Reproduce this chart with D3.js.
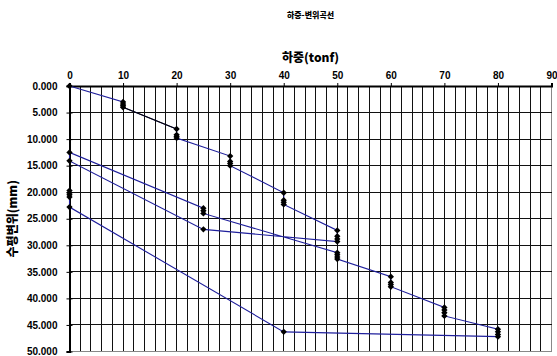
<!DOCTYPE html>
<html>
<head>
<meta charset="utf-8">
<script src="https://cdn.jsdelivr.net/npm/d3@7/dist/d3.min.js"></script>
<style>
  html, body { margin: 0; padding: 0; background: #fff; }
  svg { display: block; }
  .num { font-family: "Liberation Sans", Arial, sans-serif; font-weight: bold; font-size: 10px; fill: #000; }
  .kr { font-family: "Noto Sans CJK KR", "Liberation Sans", sans-serif; font-weight: 900; fill: #000; }
</style>
</head>
<body>
<svg id="chart" width="557" height="356"></svg>
<script>
// Lateral load test readings, in the order they were taken
const loads = [0, 10, 10, 10, 10, 20, 20, 20, 20, 30, 30, 30, 30, 40, 40, 40, 40,
               50, 50, 50, 50, 25, 0, 0, 25, 25, 25, 50, 50, 50, 50,
               60, 60, 60, 60, 70, 70, 70, 70, 80, 80, 80, 80, 40, 0, 0, 0, 0, 0];
const disps = [0, 3.0, 3.4, 3.7, 4.0, 8.1, 9.2, 9.5, 9.8, 13.2, 14.2, 14.6, 15.0, 20.1, 21.5, 21.9, 22.3,
               27.2, 28.3, 28.8, 29.3, 27.0, 14.1, 12.5, 23.0, 23.5, 24.0, 31.4, 31.8, 32.2, 32.6,
               35.9, 37.0, 37.4, 37.8, 41.7, 42.2, 42.7, 43.3, 45.8, 46.3, 46.8, 47.2, 46.3, 22.8, 20.9, 20.5, 20.1, 19.7];

// First loading step, drawn as its own segment
const stepLoads = [10, 20];
const stepDisps = [4.0, 8.1];

const xTicks = [0, 10, 20, 30, 40, 50, 60, 70, 80, 90];
const yTicks = [0, 5, 10, 15, 20, 25, 30, 35, 40, 45, 50];

const chartTitle = "하중-변위곡선";
const xTitle = "하중(tonf)";
const yTitle = "수평변위(mm)";

const svg = d3.select("#chart");
const plotL = 69.5, plotR = 551.5, plotT = 86, plotB = 351.5;

const x = d3.scaleLinear().domain([0, 90]).range([plotL, plotR]);
const y = d3.scaleLinear().domain([0, 50]).range([plotT, plotB]);

// grid
const grid = svg.append("g").attr("shape-rendering", "crispEdges");
grid.selectAll("line.v").data(d3.range(0, 91, 2)).enter().append("line")
  .attr("x1", d => x(d)).attr("x2", d => x(d))
  .attr("y1", plotT).attr("y2", plotB)
  .attr("stroke", d => d === 90 ? "#888" : "#111").attr("stroke-width", 1);
grid.selectAll("line.h").data(yTicks).enter().append("line")
  .attr("x1", plotL).attr("x2", plotR)
  .attr("y1", d => y(d)).attr("y2", d => y(d))
  .attr("stroke", d => d === 50 ? "#888" : "#111").attr("stroke-width", 1);

// axes
const xAxis = d3.axisTop(x).tickValues(xTicks).tickSize(3).tickFormat(d3.format("d"));
const gx = svg.append("g").attr("transform", `translate(0,${plotT})`).call(xAxis);
gx.select(".domain").attr("stroke", "#000").attr("stroke-width", 2);
gx.selectAll(".tick line").attr("stroke", "#000");
gx.selectAll(".tick text").attr("class", "num").attr("dy", "-0.25em").attr("y", -5);

const yAxis = d3.axisLeft(y).tickValues(yTicks).tickSize(3).tickFormat(d3.format(".3f"));
const gy = svg.append("g").attr("transform", `translate(${plotL},0)`).call(yAxis);
gy.select(".domain").attr("stroke", "#000").attr("stroke-width", 2);
gy.selectAll(".tick line").attr("x1", 3).attr("x2", -3).attr("stroke", "#000");
gy.selectAll(".tick text").attr("class", "num").attr("x", -12);

// titles
svg.append("text").attr("class", "kr").attr("x", (plotL + plotR) / 2).attr("y", 18)
  .attr("text-anchor", "middle").attr("font-size", 8).text(chartTitle);
svg.append("text").attr("class", "kr").attr("x", (plotL + plotR) / 2).attr("y", 62)
  .attr("text-anchor", "middle").attr("font-size", 12).text(xTitle);
svg.append("text").attr("class", "kr")
  .attr("transform", `translate(17,${(plotT + plotB) / 2}) rotate(-90)`)
  .attr("text-anchor", "middle").attr("font-size", 12).text(yTitle);

// curve
const pts = loads.map((l, i) => [l, disps[i]]);
const line = d3.line().x(d => x(d[0])).y(d => y(d[1]));
svg.append("path").datum(pts).attr("d", line)
  .attr("fill", "none").attr("stroke", "#1f1f9c").attr("stroke-width", 1.1);
svg.append("path").datum(stepLoads.map((l, i) => [l, stepDisps[i]])).attr("d", line)
  .attr("fill", "none").attr("stroke", "#000").attr("stroke-width", 1.1);

// markers
const diamond = d3.symbol().type(d3.symbolSquare).size(20);
svg.append("g").selectAll("path").data(pts).enter().append("path")
  .attr("d", diamond)
  .attr("transform", d => `translate(${x(d[0])},${y(d[1])}) rotate(45)`)
  .attr("fill", "#000");
</script>
</body>
</html>
